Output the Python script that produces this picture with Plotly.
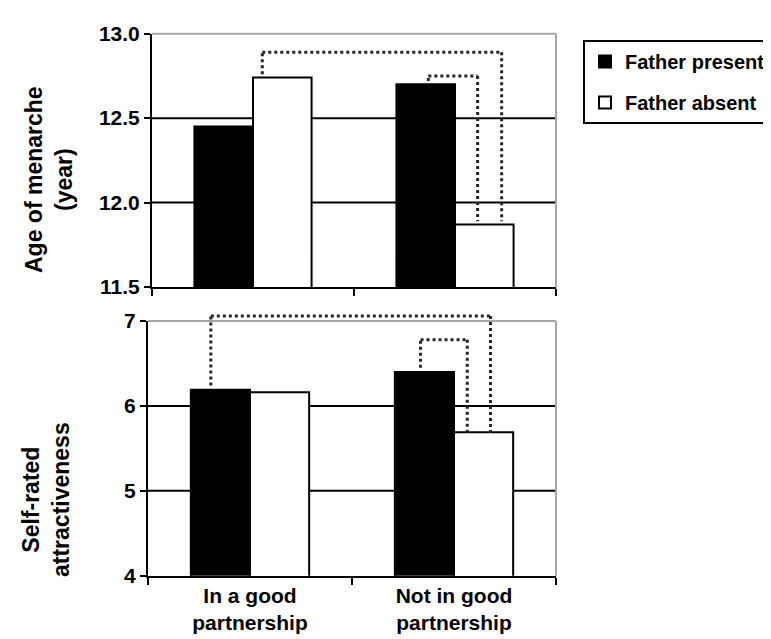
import plotly.graph_objects as go

# ---------------- data ----------------
categories = ["In a good<br>partnership", "Not in good<br>partnership"]
series_names = ["Father present", "Father absent"]

menarche_present = [12.45, 12.70]
menarche_absent = [12.74, 11.87]

attract_present = [6.19, 6.40]
attract_absent = [6.16, 5.69]

menarche_ticks = [11.5, 12.0, 12.5, 13.0]
attract_ticks = [4, 5, 6, 7]

# significance brackets: (left x, right x, top level, left foot, right foot)
# x given as category index + offset
menarche_brackets = [
    (0.046, 1.231, 12.89, 12.76, 11.89),
    (0.868, 1.112, 12.75, 12.72, 11.89),
]
attract_brackets = [
    (-0.192, 1.179, 7.06, 6.24, 5.65),
    (0.836, 1.065, 6.78, 6.45, 5.65),
]

# ---------------- layout constants ----------------
W, H = 771, 639
FONT = "Liberation Sans, Arial, sans-serif"
DOT = "#262626"
GRAY = "#a6a6a6"

def px_x(p):
    return p / W

def px_y(p):
    return 1 - p / H

fig = go.Figure()

fig.add_trace(go.Bar(x=categories, y=menarche_present, name=series_names[0],
                     marker=dict(color="black", line=dict(color="black", width=2)),
                     xaxis="x", yaxis="y", legendgroup="a"))
fig.add_trace(go.Bar(x=categories, y=menarche_absent, name=series_names[1],
                     marker=dict(color="white", line=dict(color="black", width=2)),
                     xaxis="x", yaxis="y", legendgroup="b"))
fig.add_trace(go.Bar(x=categories, y=attract_present, name=series_names[0],
                     marker=dict(color="black", line=dict(color="black", width=2)),
                     xaxis="x2", yaxis="y2", showlegend=False, legendgroup="a"))
fig.add_trace(go.Bar(x=categories, y=attract_absent, name=series_names[1],
                     marker=dict(color="white", line=dict(color="black", width=2)),
                     xaxis="x2", yaxis="y2", showlegend=False, legendgroup="b"))

tickfont = dict(family=FONT, size=21, color="black", weight="bold")

xcommon = dict(type="category", showline=True, linecolor="black", linewidth=2,
               ticks="outside", tickson="boundaries", ticklen=7, tickwidth=2,
               tickcolor="black", showgrid=False, zeroline=False,
               range=[-0.5, 1.5], tickfont=tickfont)
ycommon = dict(showline=True, linecolor="black", linewidth=2, ticks="outside",
               ticklen=6, tickwidth=2, tickcolor="black", showgrid=False,
               zeroline=False, tickfont=tickfont, tickmode="array")

y1_range = [menarche_ticks[0], menarche_ticks[-1]]
y2_range = [attract_ticks[0], attract_ticks[-1]]

fig.update_layout(
    width=W, height=H,
    margin=dict(l=0, r=0, t=0, b=0, autoexpand=False),
    paper_bgcolor="white", plot_bgcolor="white",
    barmode="group", bargap=0.42, bargroupgap=0,
    font=dict(family=FONT, color="black"),
    xaxis=dict(xcommon, domain=[px_x(144), px_x(548)], anchor="y", showticklabels=False),
    yaxis=dict(ycommon, domain=[px_y(279), px_y(25.7)], anchor="x", range=y1_range,
               tickvals=menarche_ticks, tickformat=".1f"),
    xaxis2=dict(xcommon, domain=[px_x(140), px_x(548)], anchor="y2"),
    yaxis2=dict(ycommon, domain=[px_y(567.7), px_y(313)], anchor="x2", range=y2_range,
                tickvals=attract_ticks),
    legend=dict(x=px_x(575), y=px_y(32), xanchor="left", yanchor="top",
                bordercolor="black", borderwidth=2, bgcolor="white",
                font=dict(family=FONT, size=20, color="black", weight="bold"),
                tracegroupgap=12, itemwidth=30, traceorder="grouped"),
)

shapes = []
# gridlines (interior ticks) and gray top/right frame
for xa, ya, ticks in (("x", "y", menarche_ticks), ("x2", "y2", attract_ticks)):
    for t in ticks[1:-1]:
        shapes.append(dict(type="line", xref=f"{xa} domain", yref=ya, x0=0, x1=1,
                           y0=t, y1=t, line=dict(color="black", width=2), layer="below"))
    shapes.append(dict(type="line", xref=f"{xa} domain", yref=f"{ya} domain",
                       x0=0, x1=1, y0=1, y1=1, line=dict(color=GRAY, width=2), layer="above"))
    shapes.append(dict(type="line", xref=f"{xa} domain", yref=f"{ya} domain",
                       x0=1, x1=1, y0=0, y1=1, line=dict(color=GRAY, width=2), layer="above"))

# dotted significance brackets (y in axis-domain fraction so they may rise above the frame)
def add_brackets(brs, xa, ya, rng):
    def f(v):
        return (v - rng[0]) / (rng[1] - rng[0])
    for (xl, xr, top, fl, fr) in brs:
        style = dict(type="line", xref=xa, yref=f"{ya} domain",
                     line=dict(color=DOT, width=3, dash="dot"), layer="above")
        shapes.append(dict(style, x0=xl, x1=xl, y0=f(fl), y1=f(top)))
        shapes.append(dict(style, x0=xl, x1=xr, y0=f(top), y1=f(top)))
        shapes.append(dict(style, x0=xr, x1=xr, y0=f(top), y1=f(fr)))

add_brackets(menarche_brackets, "x", "y", y1_range)
add_brackets(attract_brackets, "x2", "y2", y2_range)

fig.update_layout(shapes=shapes)

titlefont = dict(family=FONT, size=23, color="black", weight="bold")
fig.add_annotation(text="Age of menarche<br>(year)", textangle=-90, showarrow=False,
                   xref="paper", yref="paper", x=px_x(41), y=px_y(172),
                   xanchor="center", yanchor="middle", font=titlefont)
fig.add_annotation(text="Self-rated<br>attractiveness", textangle=-90, showarrow=False,
                   xref="paper", yref="paper", x=px_x(38), y=px_y(492),
                   xanchor="center", yanchor="middle", font=titlefont)

fig.write_html("out.html")
